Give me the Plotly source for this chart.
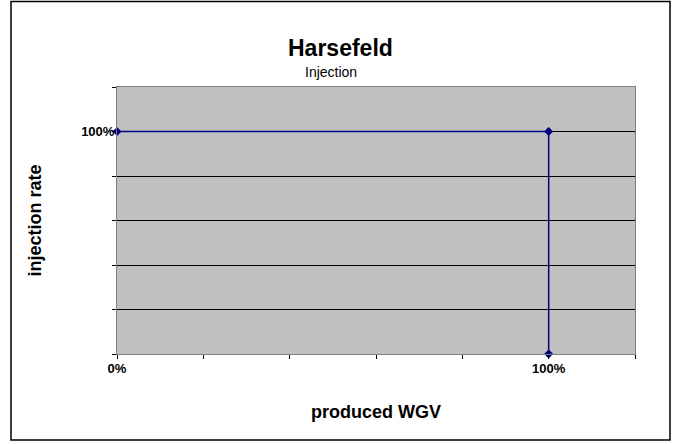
import plotly.graph_objects as go

# produced WGV (fraction) vs injection rate (fraction)
produced_wgv = [0.0, 1.0, 1.0]
injection_rate = [1.0, 1.0, 0.0]

tick_vals = [0.0, 0.2, 0.4, 0.6, 0.8, 1.0, 1.2]
x_tick_text = ["0%", "", "", "", "", "100%", ""]
y_tick_text = ["", "", "", "", "", "100%", ""]

FONT = "Liberation Sans, Arial, sans-serif"

fig = go.Figure()
fig.add_trace(go.Scatter(
    x=produced_wgv, y=injection_rate, mode="lines+markers",
    line=dict(color="#000080", width=1.5),
    marker=dict(symbol="diamond", size=7, color="#000080"),
    showlegend=False, cliponaxis=False,
))

axis_common = dict(
    range=[0, 1.2], tickvals=tick_vals, showline=True, mirror=True,
    linecolor="#808080", linewidth=1, ticks="outside", ticklen=4,
    tickcolor="#000000",
    tickfont=dict(family=FONT, size=13, color="#000000", weight="bold"),
    zeroline=False,
)

fig.update_xaxes(
    **axis_common, ticktext=x_tick_text, showgrid=False,
    ticklabelstandoff=-2,
    title=dict(text="<b>produced WGV</b>", standoff=30,
               font=dict(family=FONT, size=18, color="#000000")),
)
fig.update_yaxes(
    **axis_common, ticktext=y_tick_text, showgrid=True,
    gridcolor="#000000", gridwidth=1, ticklabelstandoff=-5,
    title=dict(text="<b>injection rate</b>", standoff=34,
               font=dict(family=FONT, size=18, color="#000000")),
)

fig.update_layout(
    width=677, height=444,
    margin=dict(l=117, r=42, t=87, b=90),
    paper_bgcolor="white", plot_bgcolor="#C0C0C0",
    font=dict(family=FONT, color="#000000"),
    annotations=[
        dict(text="<b>Harsefeld</b>", xref="paper", yref="paper",
             x=(340 - 117) / 518, y=1 + (87 - 33) / 267, showarrow=False,
             font=dict(family=FONT, size=23, color="#000000")),
        dict(text="Injection", xref="paper", yref="paper",
             x=(331 - 117) / 518, y=1 + (87 - 62) / 267, showarrow=False,
             font=dict(family=FONT, size=14, color="#000000")),
    ],
    # outer chart frame
    shapes=[dict(type="rect", xref="paper", yref="paper",
                 x0=(11 - 117) / 518, x1=(670 - 117) / 518,
                 y0=-(440 - 354) / 267, y1=1 + (87 - 1.5) / 267,
                 line=dict(color="#000000", width=1.5))],
)

fig.write_html("out.html", config={"displayModeBar": False},
               post_script="document.body.style.margin='0';")
